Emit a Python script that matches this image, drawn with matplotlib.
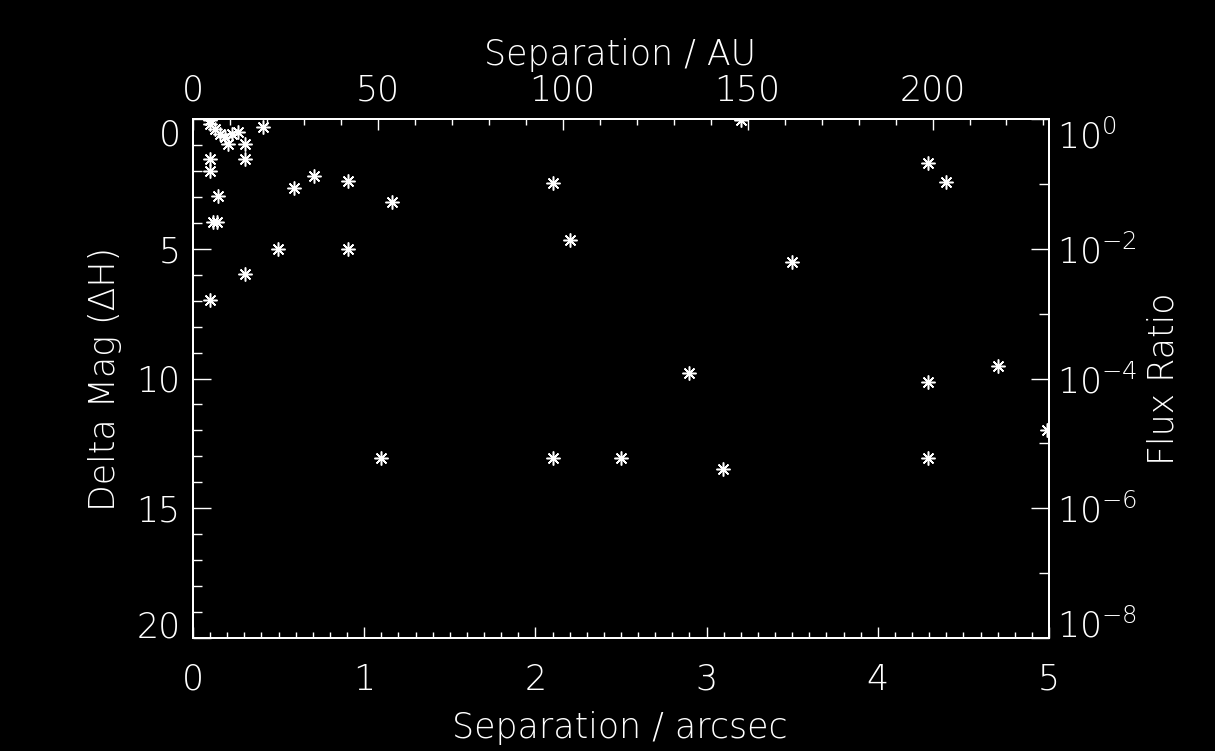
import numpy as np
import matplotlib
matplotlib.use("Agg")
import matplotlib.pyplot as plt
from matplotlib.ticker import MultipleLocator, FixedLocator, LogFormatterMathtext, NullFormatter

# separation (arcsec) and contrast (delta H mag)
sep_arcsec = [0.10, 0.099, 0.128, 0.158, 0.187, 0.206, 0.225, 0.265, 0.304, 0.304,
              0.41, 0.099, 0.099, 0.144, 0.119, 0.138, 0.59, 0.707, 0.907, 1.164,
              0.498, 0.907, 0.304, 0.099, 2.10, 2.20, 3.20, 3.50, 2.90, 4.295,
              4.40, 4.295, 4.70, 4.99, 1.10, 2.10, 2.50, 3.094, 4.295]
delta_mag = [0.05, 0.18, 0.37, 0.57, 0.69, 0.95, 0.57, 0.50, 0.95, 1.54,
             0.31, 1.54, 2.0, 2.97, 3.96, 3.96, 2.65, 2.20, 2.39, 3.19,
             5.0, 5.0, 5.97, 6.97, 2.47, 4.66, 0.05, 5.51, 9.78, 1.68,
             2.42, 10.12, 9.52, 11.98, 13.06, 13.06, 13.06, 13.5, 13.05]

mag_ticks = [0, 5, 10, 15, 20]
flux_ticks = [1e0, 1e-2, 1e-4, 1e-6, 1e-8]
flux_minor = [1e-1, 1e-3, 1e-5, 1e-7]

dist_pc = 46.3  # 1 arcsec -> AU

fg = "white"
plt.rcParams["font.family"] = "DejaVu Sans"
plt.rcParams["font.weight"] = "light"
plt.rcParams["axes.labelweight"] = "light"
plt.rcParams["font.size"] = 25
plt.rcParams["mathtext.fontset"] = "dejavusans"
plt.rcParams["text.color"] = fg

fig = plt.figure(figsize=(12.15, 7.51), dpi=100, facecolor="black")
ax = fig.add_axes([193 / 1215, 1 - 638 / 751, 856 / 1215, 519 / 751])
ax.set_facecolor("black")

ax.plot(sep_arcsec, delta_mag, linestyle="none", marker=(8, 2, 0),
        markersize=10, markeredgewidth=1.1, color=fg, clip_on=True)

ax.set_xlim(0, 5)
ax.set_ylim(20, 0)
ax.xaxis.set_major_locator(MultipleLocator(1))
ax.xaxis.set_minor_locator(MultipleLocator(0.1))
ax.set_yticks(mag_ticks)
ax.yaxis.set_minor_locator(MultipleLocator(1))

for s in ax.spines.values():
    s.set_color(fg)
    s.set_linewidth(1.3)

ax.tick_params(axis="x", which="major", direction="in", length=8, width=1, colors=fg, pad=18, top=False)
ax.tick_params(axis="x", which="minor", direction="in", length=4.5, width=1, colors=fg, top=False)
ax.tick_params(axis="y", which="major", direction="in", length=13, width=1, colors=fg, pad=9, right=False)
ax.tick_params(axis="y", which="minor", direction="in", length=6.5, width=1, colors=fg, right=False)

# IDL style: end labels pushed inside the axis range
ylabs = ax.get_yticklabels()
ylabs[0].set_va("top")
ylabs[-1].set_va("baseline")

ax.set_xlabel("Separation / arcsec", color=fg)
ax.xaxis.set_label_coords(0.499, -0.14)
ax.set_ylabel("Delta Mag (ΔH)", color=fg)
ax.yaxis.set_label_coords(-0.083, 0.5)

# top axis in AU
axt = ax.twiny()
axt.set_xlim(0, 5 * dist_pc)
axt.xaxis.set_major_locator(MultipleLocator(50))
axt.xaxis.set_minor_locator(MultipleLocator(10))
axt.tick_params(axis="x", which="major", direction="in", length=8, width=1, colors=fg, pad=8)
axt.tick_params(axis="x", which="minor", direction="in", length=4, width=1, colors=fg)
axt.set_xlabel("Separation / AU", color=fg)
axt.xaxis.set_label_coords(0.499, 1.104)

# right axis flux ratio
axr = ax.twinx()
axr.set_yscale("log")
axr.set_ylim(1e-8, 1e0)
axr.set_yticks(flux_ticks)
axr.yaxis.set_minor_locator(FixedLocator(flux_minor))
axr.yaxis.set_major_formatter(LogFormatterMathtext())
axr.yaxis.set_minor_formatter(NullFormatter())
axr.tick_params(axis="y", which="major", direction="in", length=13, width=1, colors=fg, pad=6)
axr.tick_params(axis="y", which="minor", direction="in", length=7, width=1, colors=fg)
rlabs = axr.get_yticklabels()
rlabs[0].set_va("top")
rlabs[-1].set_va("baseline")
axr.set_ylabel("Flux Ratio", color=fg)
axr.yaxis.set_label_coords(1.114, 0.5)

for a in (axt, axr):
    for s in a.spines.values():
        s.set_color(fg)
        s.set_linewidth(1.3)

fig.savefig("out.png", dpi=100, facecolor="black")
